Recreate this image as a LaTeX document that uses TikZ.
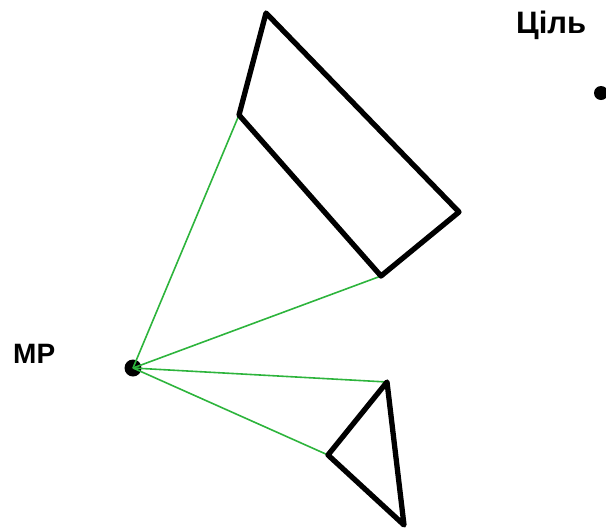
\documentclass[tikz,border=0pt]{standalone}
\usepackage{fontspec}
\setmainfont{Liberation Sans}
\usepackage{tikz}
\usetikzlibrary{positioning}

\definecolor{raygreen}{RGB}{45,180,60}

\begin{document}
\begin{tikzpicture}[x=1pt,y=-1pt,
    wall/.style={line width=5.3pt, line join=round, line cap=round},
    ray/.style={raygreen, line width=1.6pt},
    dot/.style={circle, fill=black, inner sep=0pt},
    lbl/.style={font=\fontsize{28}{30}\selectfont\bfseries, inner sep=0pt}]
  \useasboundingbox (0,0) rectangle (606,531);

  % Obstacle vertices
  \coordinate (qtop)    at (266,13);
  \coordinate (qleft)   at (239,115);
  \coordinate (qbottom) at (381,276);
  \coordinate (qright)  at (459,212);
  \coordinate (ttop)    at (387,382);
  \coordinate (tleft)   at (328,455);
  \coordinate (tbottom) at (404,525);

  % Points
  \node[dot, minimum size=17pt] (mp) at (133,368) {};
  \node[dot, minimum size=14pt] (goal) at (601,93) {};

  % Labels
  \node[lbl, anchor=west] (mplbl) at (13,354) {MP};
  \node[lbl, anchor=west, font=\fontsize{31}{33}\selectfont\bfseries] (goallbl) at (516,25) {Ціль};

  % Visibility rays
  \draw[ray] (mp.center) -- (qleft);
  \draw[ray] (mp.center) -- (qbottom);
  \draw[ray] (mp.center) -- (ttop);
  \draw[ray] (mp.center) -- (tleft);

  % Obstacles
  \draw[wall] (qtop) -- (qright) -- (qbottom) -- (qleft) -- cycle;
  \draw[wall] (ttop) -- (tbottom) -- (tleft) -- cycle;
\end{tikzpicture}
\end{document}
